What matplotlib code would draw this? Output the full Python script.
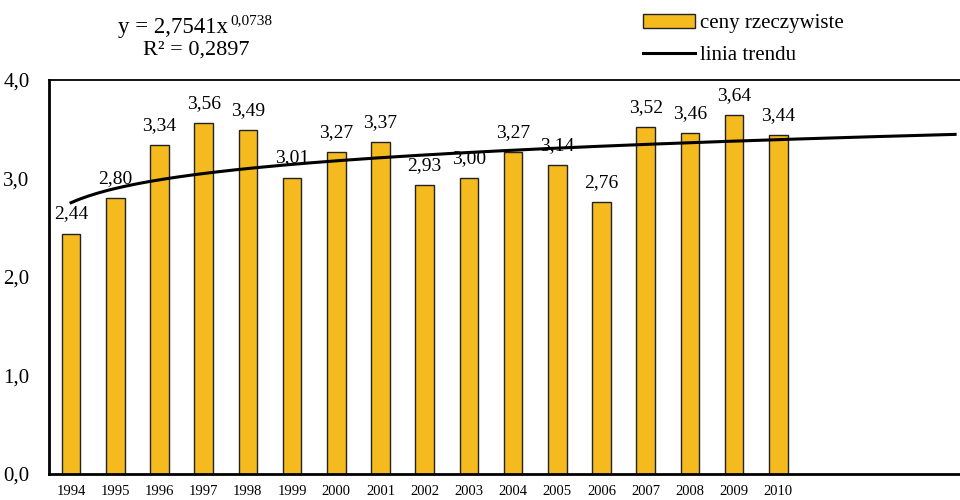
import matplotlib.pyplot as plt
import numpy as np

plt.rcParams["font.family"] = ["Liberation Serif", "DejaVu Serif"]

years = ["1994", "1995", "1996", "1997", "1998", "1999", "2000", "2001", "2002",
         "2003", "2004", "2005", "2006", "2007", "2008", "2009", "2010"]
prices = [2.44, 2.80, 3.34, 3.56, 3.49, 3.01, 3.27, 3.37, 2.93,
          3.00, 3.27, 3.14, 2.76, 3.52, 3.46, 3.64, 3.44]
trend_a = 2.7541
trend_b = 0.0738
trend_end = 21

fig = plt.figure(figsize=(9.6, 5), dpi=100)
ax = fig.add_axes([0.051, 0.052, 0.96, 0.788])

x = np.arange(1, len(years) + 1)
bars = ax.bar(x, prices, width=0.42, color="#F5BA1E", edgecolor="#222222",
              linewidth=1.0, label="ceny rzeczywiste", zorder=2)
for xi, v in zip(x, prices):
    ax.annotate(f"{v:.2f}".replace(".", ","), (xi, v), xytext=(0, 8),
                textcoords="offset points", ha="center", va="bottom", fontsize=14)

xt = np.linspace(1, trend_end, 200)
line, = ax.plot(xt, trend_a * xt ** trend_b, color="black", linewidth=2.2,
                label="linia trendu", zorder=3)

ax.set_xlim(0.5, 21.35)
ax.set_ylim(0, 4)
ax.set_xticks(x)
ax.set_xticklabels(years, fontsize=10.5)
ax.set_yticks([0, 1, 2, 3, 4])
ax.set_yticklabels(["0,0", "1,0", "2,0", "3,0", "4,0"], fontsize=15)
ax.tick_params(length=0, pad=8)
ax.tick_params(axis="y", pad=14)
for s in ["left", "bottom"]:
    ax.spines[s].set_linewidth(2)
ax.spines["top"].set_linewidth(1.3)
ax.spines["right"].set_visible(False)

fig.legend([bars, line], ["ceny rzeczywiste", "linia trendu"],
           loc="upper left", bbox_to_anchor=(0.65, 1.01), frameon=False,
           fontsize=15, handlelength=2.5, handletextpad=0.25, labelspacing=0.6)

fig.text(0.123, 0.944, "y = 2,7541x", fontsize=16.5, va="center")
fig.text(0.2395, 0.958, "0,0738", fontsize=11, va="center")
fig.text(0.149, 0.9, "R² = 0,2897", fontsize=16, va="center")

fig.savefig("out.png")
